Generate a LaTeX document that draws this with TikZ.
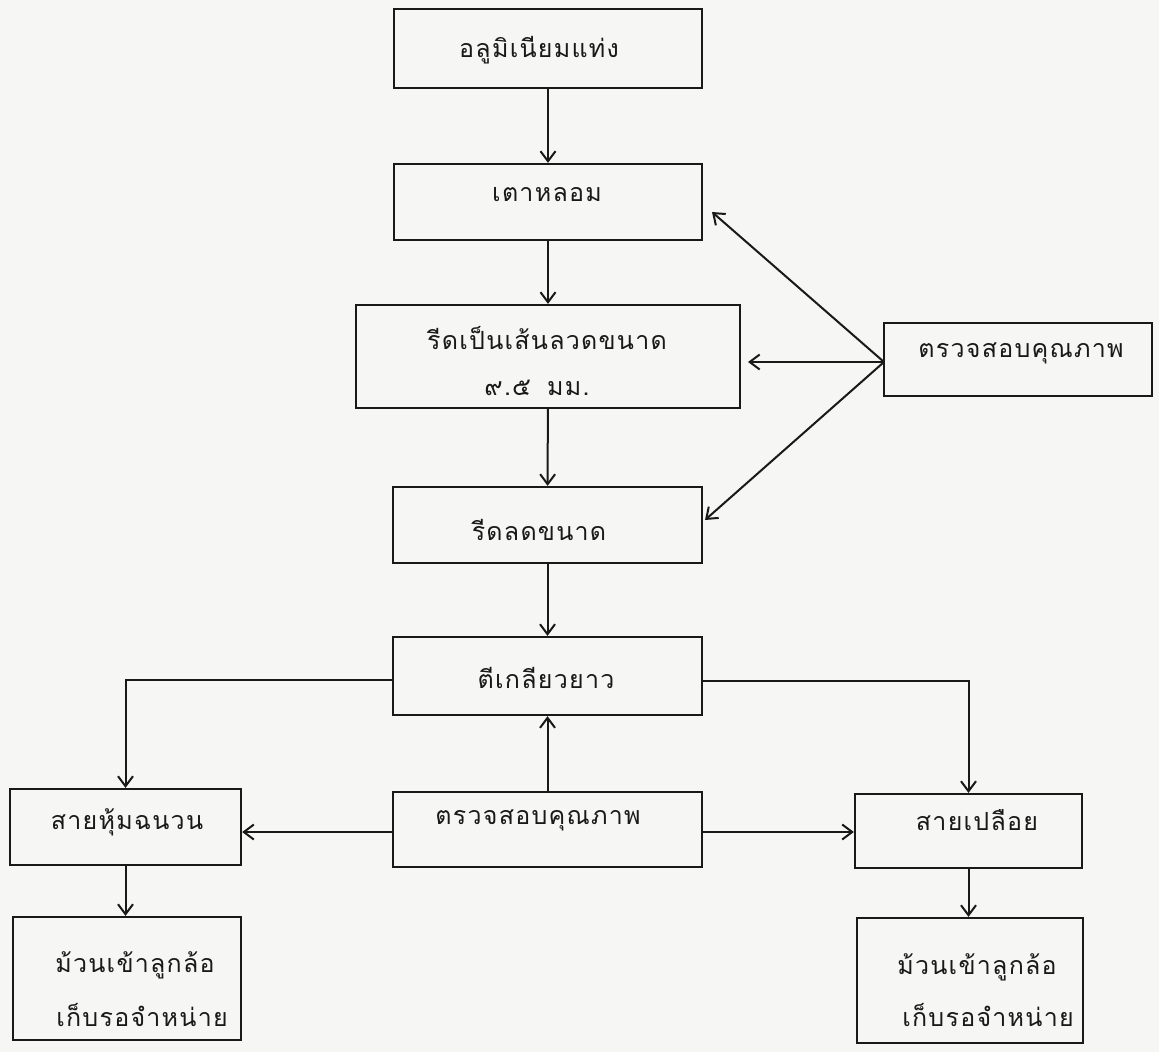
\documentclass[tikz,border=0pt]{standalone}
\usepackage{fontspec}
\newfontfamily\thaifont[Script=Thai,LetterSpace=5]{Loma}
\usetikzlibrary{arrows.meta}
\definecolor{paper}{RGB}{246,246,244}
\definecolor{ink}{RGB}{25,25,25}
\tikzset{
  box/.style={draw=ink, line width=2.3pt, rectangle, inner sep=0pt},
  lbl/.style={text=ink, font=\thaifont\fontsize{25}{30}\selectfont, inner sep=0pt, anchor=center},
  arr/.style={draw=ink, line width=2pt, -{Straight Barb[length=10pt,width=15pt,line width=2pt]}},
  ln/.style={draw=ink, line width=2pt}
}
\begin{document}
\begin{tikzpicture}[x=1pt,y=-1pt]
\useasboundingbox (0,0) rectangle (1159,1052);
\fill[paper] (0,0) rectangle (1159,1052);

% boxes
\node[box, minimum width=308pt, minimum height=79pt] (b1) at (548,48.5) {};
\node[box, minimum width=308pt, minimum height=76pt] (b2) at (548,202) {};
\node[box, minimum width=384pt, minimum height=103pt] (b3) at (548,356.5) {};
\node[box, minimum width=309pt, minimum height=76pt] (b4) at (547.5,525) {};
\node[box, minimum width=309pt, minimum height=78pt] (b5) at (547.5,676) {};
\node[box, minimum width=268pt, minimum height=73pt] (qc1) at (1018,359.5) {};
\node[box, minimum width=231pt, minimum height=76pt] (lf) at (125.5,827) {};
\node[box, minimum width=309pt, minimum height=75pt] (qc2) at (547.5,829.5) {};
\node[box, minimum width=227pt, minimum height=74pt] (rt) at (968.5,831) {};
\node[box, minimum width=228pt, minimum height=123pt] (bl) at (127,978.5) {};
\node[box, minimum width=226pt, minimum height=125pt] (br) at (970,980.5) {};

% labels
\node[lbl] (t1) at (539,50) {อลูมิเนียมแท่ง};
\node[lbl] (t2) at (547,195) {เตาหลอม};
\node[lbl] (t3a) at (547,338) {รีดเป็นเส้นลวดขนาด};
\node[lbl] (t3b) at (537,388) {๙.๕\hspace{16pt}มม.};
\node[lbl] (t4) at (539,530) {รีดลดขนาด};
\node[lbl] (t5) at (546,678) {ตีเกลียวยาว};
\node[lbl] (tq1) at (1021,353) {ตรวจสอบคุณภาพ};
\node[lbl] (tq2) at (538,820) {ตรวจสอบคุณภาพ};
\node[lbl] (tl) at (127,822) {สายหุ้มฉนวน};
\node[lbl] (tr) at (977,820) {สายเปลือย};
\node[lbl] (tbl1) at (135,965) {ม้วนเข้าลูกล้อ};
\node[lbl] (tbl2) at (142,1015) {เก็บรอจำหน่าย};
\node[lbl] (tbr1) at (977,967) {ม้วนเข้าลูกล้อ};
\node[lbl] (tbr2) at (988,1015) {เก็บรอจำหน่าย};

% connector end points
\coordinate (q1) at (884,362);
\coordinate (e2) at (712,212);
\coordinate (e3) at (748,362);
\coordinate (e4) at (705,520);

% main chain
\draw[arr] (b1) -- (b2);
\draw[arr] (b2) -- (b3);
\draw[arr] (b3) -- (b4);
\draw[arr] (b4) -- (b5);

% quality control (top)
\draw[arr] (q1) -- (e2);
\draw[arr] (q1) -- (e3);
\draw[arr] (q1) -- (e4);

% branches
\draw[arr] (b5.west |- 0,680) -| (lf.north);
\draw[arr] (b5.east |- 0,681) -| (rt.north);
\draw[arr] (qc2) -- (b5);
\draw[arr] (qc2.west |- 0,832) -- (lf.east |- 0,832);
\draw[arr] (qc2.east |- 0,832) -- (rt.west |- 0,832);
\draw[arr] (lf.south) -- (lf.south |- bl.north);
\draw[arr] (rt.south) -- (rt.south |- br.north);
\end{tikzpicture}
\end{document}
